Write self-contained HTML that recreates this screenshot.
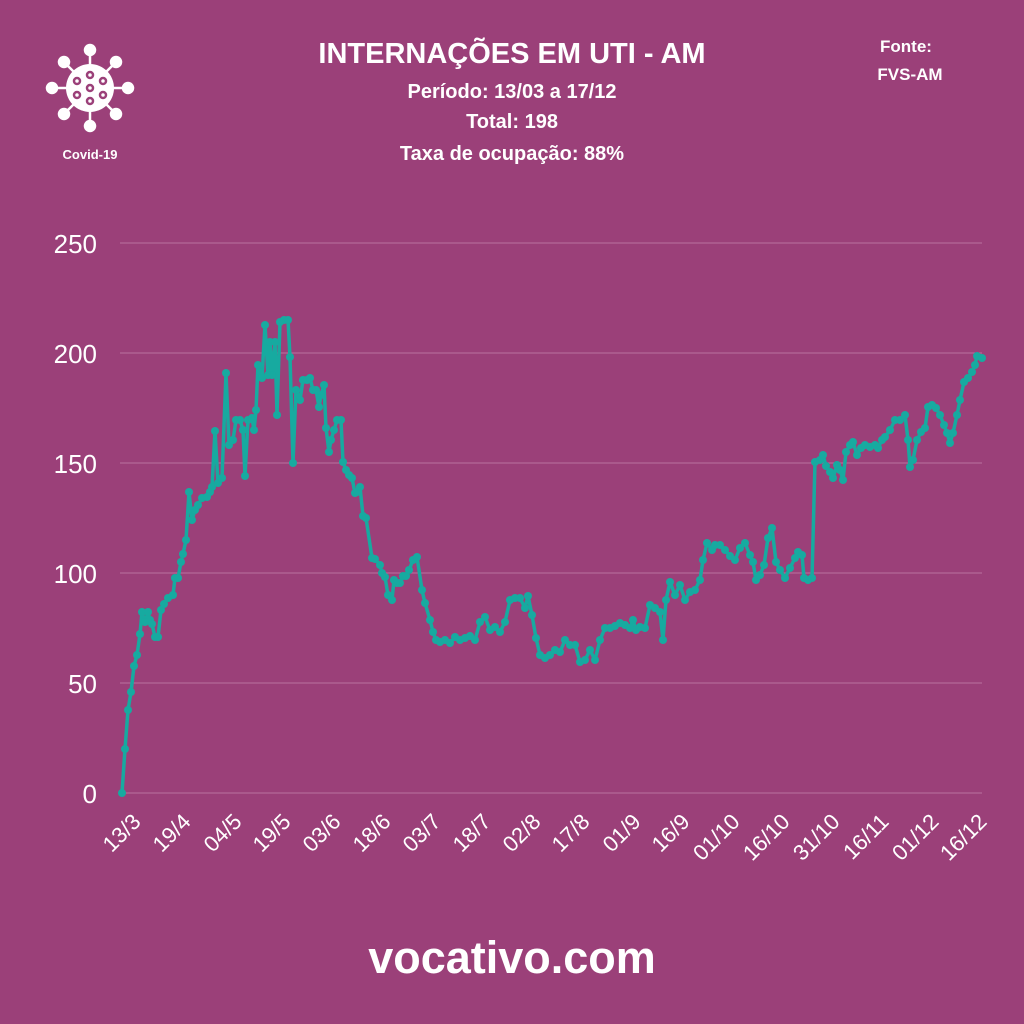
<!DOCTYPE html>
<html><head><meta charset="utf-8"><style>
body{margin:0;background:#9b4079;}
svg{display:block;font-family:"Liberation Sans",sans-serif;}
</style></head><body>
<svg width="1024" height="1024" viewBox="0 0 1024 1024">
<defs>
<marker id="dot" markerUnits="userSpaceOnUse" markerWidth="10" markerHeight="10" refX="5" refY="5" viewBox="0 0 10 10">
<circle cx="5" cy="5" r="4" fill="#17aaa0"/>
</marker>
</defs>
<rect width="1024" height="1024" fill="#9b4079"/>
<g fill="#fff" font-weight="bold" text-anchor="middle">
<text x="512" y="63" font-size="29">INTERNAÇÕES EM UTI - AM</text>
<text x="512" y="98" font-size="20">Período: 13/03 a 17/12</text>
<text x="512" y="128" font-size="20">Total: 198</text>
<text x="512" y="160" font-size="20">Taxa de ocupação: 88%</text>
<text x="906" y="52" font-size="17">Fonte:</text>
<text x="910" y="80" font-size="17">FVS-AM</text>
<text x="90" y="159" font-size="13">Covid-19</text>
<text x="512" y="973" font-size="45">vocativo.com</text>
</g>
<g stroke="#fff" stroke-width="2.5" fill="#fff">
<line x1="90" y1="50" x2="90" y2="126"/><line x1="52" y1="88" x2="128" y2="88"/>
<line x1="64" y1="62" x2="116" y2="114"/><line x1="116" y1="62" x2="64" y2="114"/>
<circle cx="90" cy="50" r="5"/><circle cx="90" cy="126" r="5"/><circle cx="52" cy="88" r="5"/><circle cx="128" cy="88" r="5"/>
<circle cx="64" cy="62" r="5"/><circle cx="116" cy="62" r="5"/><circle cx="64" cy="114" r="5"/><circle cx="116" cy="114" r="5"/>
<circle cx="90" cy="88" r="24" stroke="none"/>
</g>
<g fill="none" stroke="#9b4079" stroke-width="2.5">
<circle cx="90" cy="75" r="3"/><circle cx="90" cy="88" r="3"/><circle cx="90" cy="101" r="3"/>
<circle cx="77" cy="81" r="3"/><circle cx="103" cy="81" r="3"/><circle cx="77" cy="95" r="3"/><circle cx="103" cy="95" r="3"/>
</g>
<g stroke="#b9729f" stroke-width="1">
<line x1="120" y1="243" x2="982" y2="243"/><line x1="120" y1="353" x2="982" y2="353"/>
<line x1="120" y1="463" x2="982" y2="463"/><line x1="120" y1="573" x2="982" y2="573"/>
<line x1="120" y1="683" x2="982" y2="683"/><line x1="120" y1="793" x2="982" y2="793"/>
</g>
<g fill="#fff" font-size="26" text-anchor="end">
<text x="97" y="253">250</text><text x="97" y="363">200</text><text x="97" y="473">150</text>
<text x="97" y="583">100</text><text x="97" y="693">50</text><text x="97" y="803">0</text>
</g>
<g fill="#fff" font-size="22" text-anchor="end">
<text transform="translate(142,823) rotate(-45)">13/3</text>
<text transform="translate(192,823) rotate(-45)">19/4</text>
<text transform="translate(243,823) rotate(-45)">04/5</text>
<text transform="translate(292,823) rotate(-45)">19/5</text>
<text transform="translate(342,823) rotate(-45)">03/6</text>
<text transform="translate(392,823) rotate(-45)">18/6</text>
<text transform="translate(442,823) rotate(-45)">03/7</text>
<text transform="translate(492,823) rotate(-45)">18/7</text>
<text transform="translate(542,823) rotate(-45)">02/8</text>
<text transform="translate(591,823) rotate(-45)">17/8</text>
<text transform="translate(642,823) rotate(-45)">01/9</text>
<text transform="translate(691,823) rotate(-45)">16/9</text>
<text transform="translate(741,823) rotate(-45)">01/10</text>
<text transform="translate(791,823) rotate(-45)">16/10</text>
<text transform="translate(841,823) rotate(-45)">31/10</text>
<text transform="translate(890,823) rotate(-45)">16/11</text>
<text transform="translate(940,823) rotate(-45)">01/12</text>
<text transform="translate(988,823) rotate(-45)">16/12</text>
</g>
<polyline fill="none" stroke="#17aaa0" stroke-width="3.5" stroke-linejoin="round" marker-start="url(#dot)" marker-mid="url(#dot)" marker-end="url(#dot)" points="122,793 125,749 128,710 131,692 134,666 137,655 140,634 142,612 145,622 148,612 150,620 152,624 155,637 158,637 161,610 164,604 168,598 173,595 175,578 178,578 181,562 183,554 186,540 189,492 192,520 195,510 198,505 202,498 207,497 210,492 212,487 215,431 218,483 222,478 226,373 229,445 233,440 236,420 240,420 243,430 245,476 248,420 252,418 254,430 256,410 258,365 262,378 265,325 268,375 270,342 272,375 275,342 277,415 280,322 284,320 288,320 290,357 293,463 296,390 300,400 303,380 307,380 310,378 313,390 316,390 319,407 321,395 324,385 326,428 329,452 331,440 334,430 337,420 341,420 343,462 346,470 349,475 352,478 355,493 357,492 360,487 363,516 366,518 372,558 375,559 380,565 382,573 385,577 388,595 392,600 394,580 397,583 400,583 403,576 406,576 409,570 413,560 417,557 422,590 425,603 430,620 433,632 436,640 440,642 445,640 450,643 455,637 460,640 465,638 470,636 475,640 480,622 485,617 490,630 495,627 500,632 505,622 510,600 515,598 520,598 525,608 528,596 532,615 536,638 540,655 545,658 550,655 555,650 560,652 565,640 570,645 575,645 580,662 585,660 590,650 595,660 600,640 605,628 610,628 615,626 620,623 625,625 630,628 633,620 636,630 640,627 645,628 650,605 655,608 660,612 663,640 666,600 670,582 675,595 680,585 685,600 690,592 695,590 700,580 703,560 707,543 712,550 715,545 720,545 725,550 730,556 735,560 740,548 745,543 750,555 753,562 756,580 760,575 764,565 768,538 772,528 776,562 780,570 785,578 790,568 795,558 798,552 802,555 804,578 808,580 812,578 815,462 820,460 823,455 826,466 830,472 833,478 837,465 840,470 843,480 846,452 850,445 853,442 857,455 861,448 865,445 870,447 875,445 878,448 882,440 885,437 890,430 895,420 900,420 905,415 908,440 910,467 913,460 917,440 921,432 925,428 928,407 932,405 936,408 940,415 944,425 947,433 950,443 953,433 957,415 960,400 964,382 968,378 972,372 975,365 977,356 982,358"/>
</svg>
</body></html>
